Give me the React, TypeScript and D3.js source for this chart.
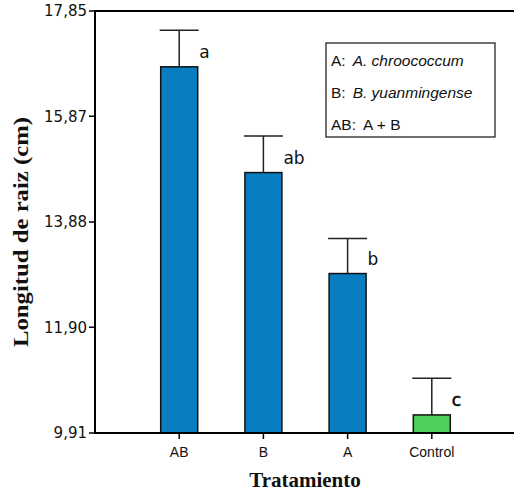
import React from "react";
import * as d3 from "d3";

// data
const categories = ["AB", "B", "A", "Control"];
const means = [16.8, 14.81, 12.91, 10.25];
const upperErr = [17.49, 15.5, 13.57, 10.94];
const letters = ["a", "ab", "b", "c"];
const yTicks = [9.91, 11.9, 13.88, 15.87, 17.85];
const legendRows = [
  { key: "A:", name: "A. chroococcum", italic: true },
  { key: "B:", name: "B. yuanmingense", italic: true },
  { key: "AB:", name: "A + B", italic: false },
];

const W = 514, H = 492;
const left = 95, top = 11, bottom = 433, right = 514;
const barW = 37;

export default function App() {
  const y = d3.scaleLinear().domain([9.91, 17.85]).range([bottom, top]);
  const x = d3.scalePoint<string>().domain(categories).range([left, 516]).padding(1);
  const fmt = (v: number) => v.toFixed(2).replace(".", ",");

  return (
    <svg width={W} height={H} style={{ position: "absolute", left: 0, top: 0, background: "#fff" }}>
      {/* bars */}
      {categories.map((c, i) => {
        const cx = x(c) as number;
        return (
          <g key={c}>
            <line x1={cx} x2={cx} y1={y(means[i])} y2={y(upperErr[i])} stroke="#222" strokeWidth={1.5} />
            <line x1={cx - barW / 2 - 1} x2={cx + barW / 2 + 1} y1={y(upperErr[i])} y2={y(upperErr[i])} stroke="#222" strokeWidth={1.5} />
            <rect x={cx - barW / 2} y={y(means[i])} width={barW} height={bottom - y(means[i])}
              fill={c === "Control" ? "#4ecf5c" : "#0a7dc1"} stroke="#111" strokeWidth={1.5} />
            <text x={cx + 20} y={y(means[i]) - 9} fontFamily="DejaVu Sans" fontSize={17} fill="#111"
              stroke={c === "Control" ? "#111" : "none"} strokeWidth={0.6}>{letters[i]}</text>
          </g>
        );
      })}

      {/* frame / axes */}
      <line x1={left} x2={right} y1={top} y2={top} stroke="#000" strokeWidth={2} />
      <line x1={left} x2={left} y1={top - 1} y2={bottom + 1} stroke="#000" strokeWidth={2} />
      <line x1={left} x2={right} y1={bottom} y2={bottom} stroke="#000" strokeWidth={2} />

      {/* y ticks */}
      {yTicks.map(t => (
        <g key={t}>
          <line x1={left - 6} x2={left} y1={y(t)} y2={y(t)} stroke="#000" strokeWidth={1.5} />
          <text x={left - 8} y={y(t)} dy="0.36em" textAnchor="end" fontFamily="DejaVu Sans" fontSize={15} fill="#111">{fmt(t)}</text>
        </g>
      ))}

      {/* x ticks */}
      {categories.map(c => (
        <g key={c}>
          <line x1={x(c) as number} x2={x(c) as number} y1={bottom} y2={bottom + 6} stroke="#000" strokeWidth={1.5} />
          <text x={x(c) as number} y={457} textAnchor="middle" fontFamily="Liberation Sans" fontSize={14} fill="#111">{c}</text>
        </g>
      ))}

      {/* axis titles */}
      <text x={305} y={487} textAnchor="middle" fontFamily="Liberation Serif" fontWeight="bold" fontSize={21} fill="#111">Tratamiento</text>
      <text transform="translate(28,232) rotate(-90)" textAnchor="middle" fontFamily="Liberation Serif" fontWeight="bold"
        fontSize={22} fill="#111" textLength={230} lengthAdjust="spacingAndGlyphs">Longitud de raiz (cm)</text>

      {/* legend */}
      <rect x={326} y={43} width={169} height={94} fill="#fff" stroke="#111" strokeWidth={1.2} />
      {legendRows.map((r, i) => (
        <text key={r.key} x={331} y={66 + i * 32} fontFamily="Liberation Sans" fontSize={15.5} fill="#111">
          {r.key}
          <tspan dx={7} fontStyle={r.italic ? "italic" : "normal"}>{r.name}</tspan>
        </text>
      ))}
    </svg>
  );
}
